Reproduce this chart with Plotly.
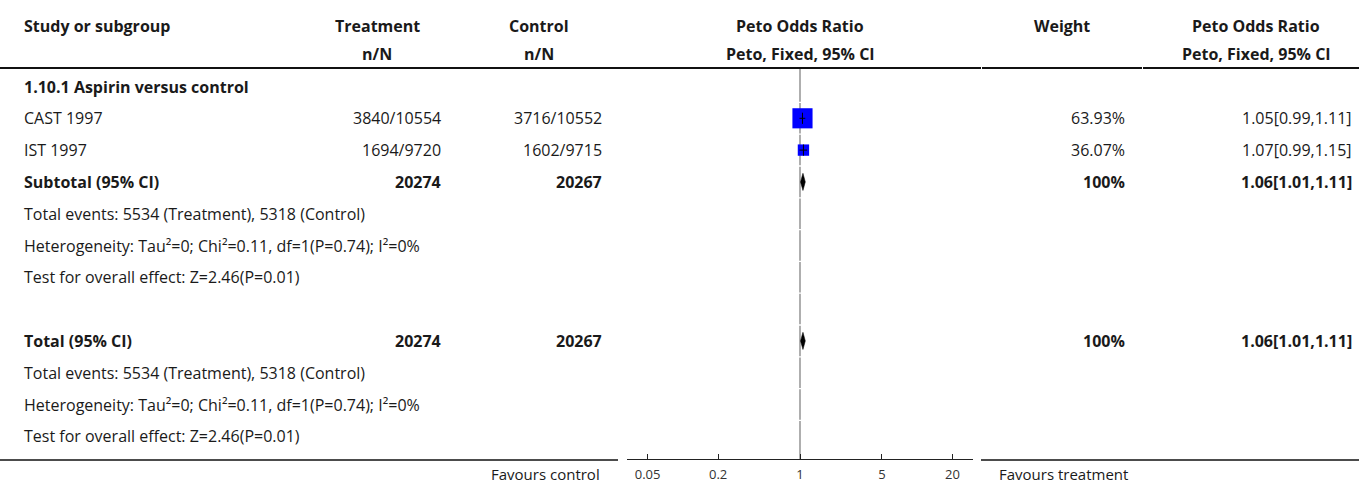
import math
import plotly.graph_objects as go

# ---------------- data ----------------
study_names = ["CAST 1997", "IST 1997"]
treat_events = [3840, 1694]
treat_total = [10554, 9720]
ctrl_events = [3716, 1602]
ctrl_total = [10552, 9715]
weights = [63.93, 36.07]
or_est = [1.05, 1.07]
or_lo = [0.99, 0.99]
or_hi = [1.11, 1.15]

subgroup_title = "1.10.1 Aspirin versus control"
pooled_est = 1.06
pooled_lo = 1.01
pooled_hi = 1.11
pooled_treat_N = 20274
pooled_ctrl_N = 20267
pooled_treat_events = 5534
pooled_ctrl_events = 5318
het_text = "Heterogeneity: Tau²=0; Chi²=0.11, df=1(P=0.74); I²=0%"
effect_text = "Test for overall effect: Z=2.46(P=0.01)"

tick_vals = [0.05, 0.2, 1, 5, 20]
tick_text = ["0.05", "0.2", "1", "5", "20"]
axis_limit = 30
left_label = "Favours control"
right_label = "Favours treatment"

# ---------------- layout constants ----------------
W, H = 1359, 485
FONT = "Open Sans, Noto Sans, sans-serif"
TXT = "#1a1a1a"
FS = 16
row0_px = 86.5
row_px = 31.8

X_STUDY = 22
X_TREAT_R, X_TREAT_C = 443, 377
X_CTRL_R, X_CTRL_C = 604, 539
X_FOREST_C = 800
X_WEIGHT_R, X_WEIGHT_C = 1127, 1062
X_OR_R, X_OR_C = 1354, 1256


def px(x):
    return x / W


def ypaper(y):
    return 1 - y / H


# row indices
R_SUB = 0
R_STUDY = [1, 2]
R_SUBTOT = 3
R_TE1, R_HET1, R_Z1 = 4, 5, 6
R_TOT = 8
R_TE2, R_HET2, R_Z2 = 9, 10, 11
y_top = -row0_px / row_px
y_bot = (H - row0_px) / row_px

fig = go.Figure()

# reference line at OR = 1, broken at row boundaries
line_y = []
line_x = []
for k in range(0, 12):
    a = (k - 0.5) + 0.02 if k > 0 else (69 - row0_px) / row_px
    b = k + 0.5 - 0.02 if k < 11 else (459 - row0_px) / row_px
    line_y += [a, b, None]
    line_x += [1, 1, None]
fig.add_trace(go.Scatter(x=line_x, y=line_y, mode="lines",
                         line=dict(color="#a6a6a6", width=1.8),
                         hoverinfo="skip", showlegend=False))

# study squares
fig.add_trace(go.Scatter(
    x=or_est, y=R_STUDY, mode="markers",
    marker=dict(symbol="square", color="#0000ff", opacity=1,
                size=[w * 0.315 for w in weights], line=dict(width=0)),
    hoverinfo="skip", showlegend=False))

# CI lines
ci_x, ci_y = [], []
for lo, hi, r in zip(or_lo, or_hi, R_STUDY):
    ci_x += [lo, hi, None]
    ci_y += [r, r, None]
fig.add_trace(go.Scatter(x=ci_x, y=ci_y, mode="lines",
                         line=dict(color="black", width=1),
                         hoverinfo="skip", showlegend=False))
fig.add_trace(go.Scatter(
    x=or_est, y=R_STUDY, mode="markers",
    marker=dict(symbol="line-ns", size=8, opacity=1,
                line=dict(color="black", width=1)),
    hoverinfo="skip", showlegend=False))

# diamonds
h = 0.27
for r in (R_SUBTOT, R_TOT):
    fig.add_trace(go.Scatter(
        x=[pooled_lo, pooled_est, pooled_hi, pooled_est, pooled_lo],
        y=[r, r - h, r, r + h, r], mode="lines", fill="toself",
        fillcolor="black", line=dict(color="black", width=0.5),
        hoverinfo="skip", showlegend=False))

ann = []


def add(text, x, y, align="left", bold=False, yref="y", size=FS, color=TXT):
    t = f"<b>{text}</b>" if bold else text
    ann.append(dict(text=t, x=px(x), xref="paper", y=y, yref=yref,
                    xanchor=align, yanchor="middle", showarrow=False,
                    font=dict(family=FONT, size=size, color=color)))


# headers
hy1 = (26 - row0_px) / row_px
hy2 = (54 - row0_px) / row_px
add("Study or subgroup", X_STUDY, hy1, bold=True)
add("Treatment", X_TREAT_C, hy1, "center", True)
add("n/N", X_TREAT_C, hy2, "center", True)
add("Control", X_CTRL_C, hy1, "center", True)
add("n/N", X_CTRL_C, hy2, "center", True)
add("Peto Odds Ratio", X_FOREST_C, hy1, "center", True)
add("Peto, Fixed, 95% CI", X_FOREST_C, hy2, "center", True)
add("Weight", X_WEIGHT_C, hy1, "center", True)
add("Peto Odds Ratio", X_OR_C, hy1, "center", True)
add("Peto, Fixed, 95% CI", X_OR_C, hy2, "center", True)

add(subgroup_title, X_STUDY, R_SUB, bold=True)
for i, r in enumerate(R_STUDY):
    add(study_names[i], X_STUDY, r)
    add(f"{treat_events[i]}/{treat_total[i]}", X_TREAT_R, r, "right")
    add(f"{ctrl_events[i]}/{ctrl_total[i]}", X_CTRL_R, r, "right")
    add(f"{weights[i]:.2f}%", X_WEIGHT_R, r, "right")
    add(f"{or_est[i]:.2f}[{or_lo[i]:.2f},{or_hi[i]:.2f}]", X_OR_R, r, "right")

for r_main, label, r_te, r_het, r_z in ((R_SUBTOT, "Subtotal (95% CI)", R_TE1, R_HET1, R_Z1),
                                        (R_TOT, "Total (95% CI)", R_TE2, R_HET2, R_Z2)):
    add(label, X_STUDY, r_main, bold=True)
    add(str(pooled_treat_N), X_TREAT_R, r_main, "right", True)
    add(str(pooled_ctrl_N), X_CTRL_R, r_main, "right", True)
    add("100%", X_WEIGHT_R, r_main, "right", True)
    add(f"{pooled_est:.2f}[{pooled_lo:.2f},{pooled_hi:.2f}]", X_OR_R, r_main, "right", True)
    add(f"Total events: {pooled_treat_events} (Treatment), {pooled_ctrl_events} (Control)", X_STUDY, r_te)
    add(het_text, X_STUDY, r_het)
    add(effect_text, X_STUDY, r_z)

add(left_label, 602, ypaper(474), "right", yref="paper", size=15)
add(right_label, 997, ypaper(474), "left", yref="paper", size=15)

# header rule (with small cell gaps) and bottom rule
hdr_breaks = [0, 981, 1142, W]
shapes = []
for i in range(len(hdr_breaks) - 1):
    x0 = hdr_breaks[i] + (1 if i > 0 else 0)
    x1 = hdr_breaks[i + 1]
    shapes.append(dict(type="line", xref="paper", yref="paper", x0=px(x0), x1=px(x1),
                       y0=ypaper(68), y1=ypaper(68), line=dict(color="#111", width=2)))
shapes += [
    dict(type="line", xref="paper", yref="paper", x0=0, x1=px(618),
         y0=ypaper(460), y1=ypaper(460), line=dict(color="#111", width=1.6)),
    dict(type="line", xref="paper", yref="paper", x0=px(981), x1=1,
         y0=ypaper(460), y1=ypaper(460), line=dict(color="#111", width=1.6)),
]

fig.update_layout(
    width=W, height=H,
    margin=dict(l=0, r=0, t=0, b=0),
    paper_bgcolor="white", plot_bgcolor="white",
    showlegend=False,
    annotations=ann, shapes=shapes,
    xaxis=dict(type="log", domain=[px(627), px(973)],
               range=[-math.log10(axis_limit), math.log10(axis_limit)],
               anchor="free", position=ypaper(459),
               showgrid=False, zeroline=False,
               showline=True, linecolor="#222", linewidth=1.4,
               ticks="inside", ticklen=5, tickcolor="#222", tickwidth=1,
               tickvals=tick_vals, ticktext=tick_text,
               tickfont=dict(family=FONT, size=13, color="#333"),
               ticklabelstandoff=3, fixedrange=True),
    yaxis=dict(range=[y_bot, y_top], domain=[0, 1], visible=False,
               showgrid=False, zeroline=False, fixedrange=True),
)

fig.write_html("out.html", config={"displayModeBar": False},
               post_script="document.body.style.margin='0';document.body.style.padding='0';")
